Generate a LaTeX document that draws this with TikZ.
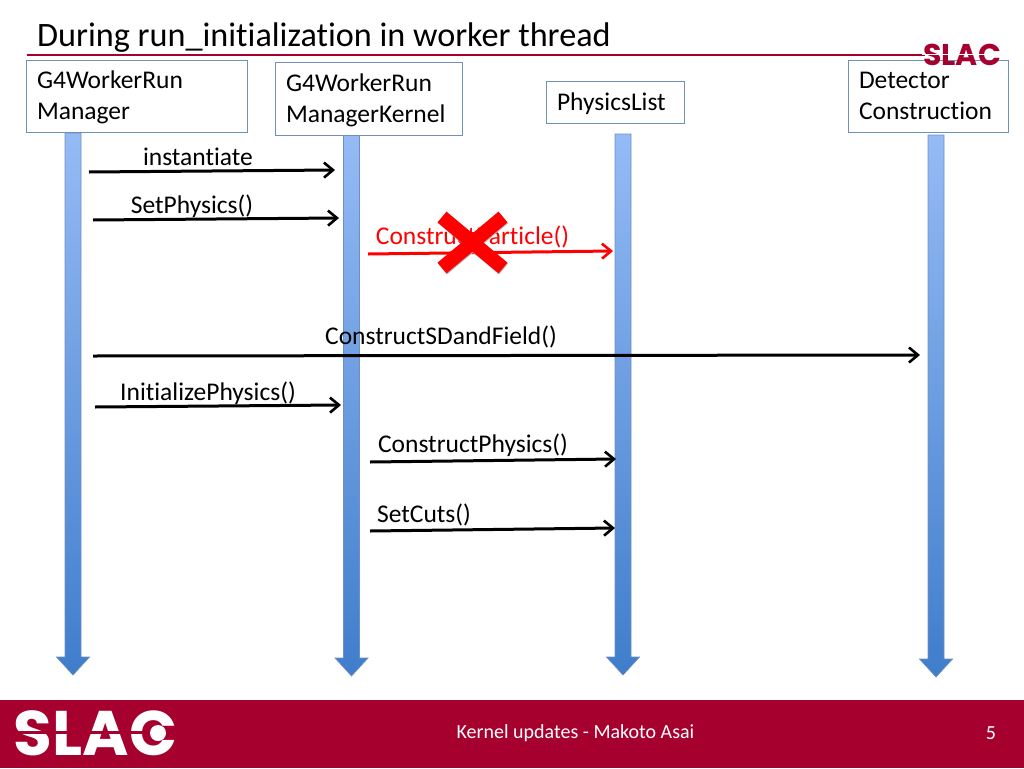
\documentclass[tikz,border=0pt]{standalone}
\usepackage{fontspec}
\setmainfont[Ligatures=NoCommon]{Carlito}
\newfontfamily\slacfont{Poppins}
\usetikzlibrary{arrows.meta,positioning,calc}
\definecolor{slacred}{HTML}{A6002F}
\definecolor{boxline}{HTML}{6E8FBF}
\definecolor{lifetop}{HTML}{95BBF5}
\definecolor{lifebot}{HTML}{3F7DCB}

\begin{document}
\begin{tikzpicture}[x=1pt, y=-1pt,
    box/.style={draw=boxline, line width=1pt, fill=white, align=left, inner xsep=10.5pt, inner ysep=0pt, font=\fontsize{25.5}{31}\selectfont, execute at begin node={\rule{0pt}{21.5pt}}, execute at end node={\rule[-6pt]{0pt}{6pt}}},
    msg/.style={-{Straight Barb[length=9pt,width=15pt,line width=2.6pt]}, line width=3pt, black},
    lbl/.style={anchor=base, font=\fontsize{25.5}{30}\selectfont},
    life/.style={draw=boxline, line width=0.7pt, top color=lifetop, bottom color=lifebot}
  ]
    \useasboundingbox (0,0) rectangle (1024,768);

    % title
    \node[anchor=base west, inner sep=0pt, font=\fontsize{34.2}{40}\selectfont] (title) at (37,46) {During run\_initialization in worker thread};
    \coordinate (rulea) at (27,55);
    \coordinate (ruleb) at (925,55);
    \draw[slacred, line width=1.6pt] (rulea) -- (ruleb);

    % lifelines
    \foreach \x/\ya/\yb in {73/133/675, 351.5/134/676, 623/134/675, 936/135/677} {
      \path[life] (\x-8,\ya) -- (\x+8,\ya) -- (\x+8,\yb-18) -- (\x+16.5,\yb-18) -- (\x,\yb) -- (\x-16.5,\yb-18) -- (\x-8,\yb-18) -- cycle;
    }

    % objects
    \node[box, text width=200pt, minimum height=72pt] (mgr) at (137,96) {G4WorkerRun\\Manager};
    \node[box, text width=166pt, minimum height=72.5pt] (kernel) at (369,99) {G4WorkerRun\\ManagerKernel};
    \node[box, text width=116.5pt, minimum height=41.5pt] (phys) at (615.25,102.25) {PhysicsList};
    \node[box, text width=138.5pt, minimum height=72pt] (det) at (928.25,96) {Detector\\Construction};

    % messages
    \path (89,172) coordinate (insta) (335,170) coordinate (instb);
    \path (93,220) coordinate (seta) (339,218) coordinate (setb);
    \path (368,254) coordinate (parta) (613,251) coordinate (partb);
    \path (93,356) coordinate (sda) (920,355) coordinate (sdb);
    \path (95,407) coordinate (inita) (341,405) coordinate (initb);
    \path (370,462) coordinate (cpa) (616,459) coordinate (cpb);
    \path (370,531) coordinate (cuta) (615,528) coordinate (cutb);

    \node[lbl] (instl) at (198,165.5) {instantiate};
    \draw[msg] (insta) -- (instb);
    \node[lbl] (setl) at (192,213.5) {SetPhysics()};
    \draw[msg] (seta) -- (setb);
    \node[lbl, text=red] (partl) at (472.5,244.5) {ConstructParticle()};
    \draw[msg, red] (parta) -- (partb);
    \node[lbl] (sdl) at (441,344.5) {ConstructSDandField()};
    \draw[msg] (sda) -- (sdb);
    \node[lbl] (initl) at (208,400.5) {InitializePhysics()};
    \draw[msg] (inita) -- (initb);
    \node[lbl] (cpl) at (473,452.5) {ConstructPhysics()};
    \draw[msg] (cpa) -- (cpb);
    \node[lbl] (cutl) at (424,522.5) {SetCuts()};
    \draw[msg] (cuta) -- (cutb);

    % cross over the red message
    \draw[black!30, line width=14pt] (442.5,218) -- (503.5,269) (503.5,218) -- (442.5,269);
    \draw[red, line width=14pt] (442,217) -- (503,268) (503,217) -- (442,268);

    % footer
    \fill[slacred] (0,700) rectangle (1024,768);
    \node[inner sep=0pt, text=white, font=\fontsize{20}{24}\selectfont] (foot) at (575.5,733) {Kernel updates - Makoto Asai};
    \node[inner sep=0pt, text=white, font=\fontsize{20}{24}\selectfont] (page) at (991,733) {5};

    % logos
    \node[inner sep=0pt, text=white, font=\slacfont\bfseries\fontsize{63}{66}\selectfont] (logo) at (95.5,733) {SLAC};
    \fill[slacred] (14,731) rectangle (177,733.5);
    \fill[white] (158,733) circle (8);
    \node[inner sep=0pt, text=slacred, font=\slacfont\bfseries\fontsize{30}{34}\selectfont] (logotop) at (962,55) {SLAC};
    \fill[white] (922,54) rectangle (1002,55.2);
  \end{tikzpicture}
\end{document}
